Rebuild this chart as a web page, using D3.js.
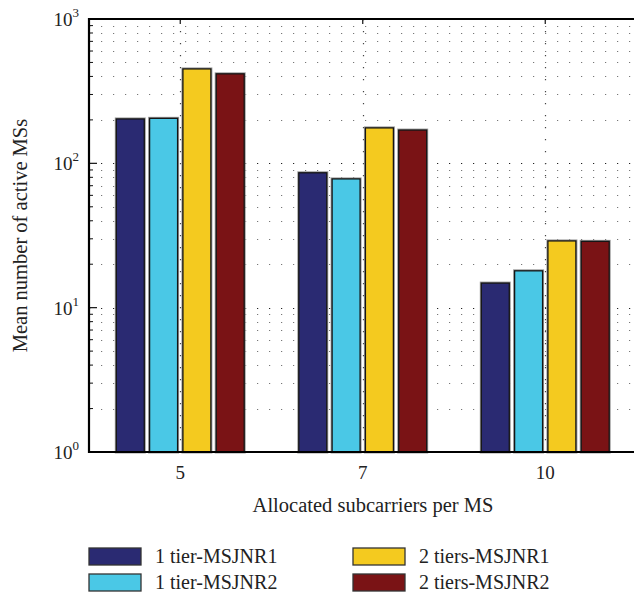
<!DOCTYPE html>
<html lang="en">
<head>
<meta charset="utf-8">
<script src="https://d3js.org/d3.v7.min.js"></script>
<style>
  body { margin: 0; background: #fff; }
  text { font-family: "Liberation Serif", "DejaVu Serif", serif; fill: #222; }
</style>
</head>
<body>
<div id="chart"></div>
<script>
// chart data
const categories = ["5", "7", "10"];
const seriesNames = ["1 tier-MSJNR1", "1 tier-MSJNR2", "2 tiers-MSJNR1", "2 tiers-MSJNR2"];
const seriesColors = ["#2a2a72", "#4ac8e6", "#f4ca1f", "#7a1315"];
const tierOneJnr1 = [203, 86, 14.8];
const tierOneJnr2 = [205, 78, 18];
const tierTwoJnr1 = [451, 176, 29];
const tierTwoJnr2 = [417, 170, 28.8];
const seriesValues = [tierOneJnr1, tierOneJnr2, tierTwoJnr1, tierTwoJnr2];
const yTickValues = [1, 10, 100, 1000];

const svgWidth = 634, svgHeight = 597;
const margin = {top: 19, left: 89, bottom: 145};
const plotRight = 636.5;
const plotBottom = svgHeight - margin.bottom; // 452

const svg = d3.select("#chart").append("svg")
  .attr("width", svgWidth)
  .attr("height", svgHeight);

// scales
const x0 = d3.scaleBand().domain(categories).range([margin.left, plotRight]);
const groupSpan = x0.bandwidth() * 0.73;
const x1 = d3.scaleBand().domain(d3.range(seriesNames.length))
  .range([(x0.bandwidth() - groupSpan) / 2, (x0.bandwidth() + groupSpan) / 2])
  .paddingInner(0.16).paddingOuter(0.08);
const y = d3.scaleLog().domain([1, 1000]).range([plotBottom, margin.top]);

// minor + major grid (dotted), behind the bars
const gridValues = [];
for (let k = 0; k < 3; k++) {
  for (let m = 1; m < 10; m++) gridValues.push(m * Math.pow(10, k));
}
svg.append("g").selectAll("line")
  .data(gridValues.filter(v => v > 1))
  .enter().append("line")
  .attr("x1", margin.left + 1).attr("x2", plotRight)
  .attr("y1", d => Math.round(y(d)) + 0.5).attr("y2", d => Math.round(y(d)) + 0.5)
  .attr("stroke", d => yTickValues.includes(d) ? "#222" : "#777")
  .attr("stroke-width", 1.2)
  .attr("stroke-dasharray", "1.2,10.8")
  .attr("stroke-dashoffset", -11);

svg.append("g").selectAll("line")
  .data(categories)
  .enter().append("line")
  .attr("x1", d => Math.round(x0(d) + x0.bandwidth() / 2) + 0.5)
  .attr("x2", d => Math.round(x0(d) + x0.bandwidth() / 2) + 0.5)
  .attr("y1", margin.top).attr("y2", plotBottom)
  .attr("stroke", "#444")
  .attr("stroke-width", 1.2)
  .attr("stroke-dasharray", "1.2,10.8");

// bars
const groups = svg.append("g").selectAll("g")
  .data(categories)
  .enter().append("g")
  .attr("transform", d => "translate(" + x0(d) + ",0)");

groups.selectAll("rect.halo")
  .data((d, i) => seriesValues.map((s, j) => ({series: j, value: s[i]})))
  .enter().append("rect")
  .attr("class", "halo")
  .attr("x", d => x1(d.series))
  .attr("y", d => y(d.value))
  .attr("width", x1.bandwidth())
  .attr("height", d => y(1) - y(d.value))
  .attr("fill", "none")
  .attr("stroke", "#9a9a9a")
  .attr("stroke-width", 3);

groups.selectAll("rect.bar")
  .data((d, i) => seriesValues.map((s, j) => ({series: j, value: s[i]})))
  .enter().append("rect")
  .attr("class", "bar")
  .attr("x", d => x1(d.series))
  .attr("y", d => y(d.value))
  .attr("width", x1.bandwidth())
  .attr("height", d => y(1) - y(d.value))
  .attr("fill", d => seriesColors[d.series])
  .attr("stroke", "#151515")
  .attr("stroke-width", 1.3);

// y axis ticks (inside), major and minor
const minorValues = gridValues.filter(v => !yTickValues.includes(v));
svg.append("g").selectAll("line")
  .data(minorValues)
  .enter().append("line")
  .attr("x1", margin.left).attr("x2", margin.left + 4)
  .attr("y1", d => y(d)).attr("y2", d => y(d))
  .attr("stroke", "#111").attr("stroke-width", 1);
svg.append("g").selectAll("line")
  .data(yTickValues)
  .enter().append("line")
  .attr("x1", margin.left).attr("x2", margin.left + 8)
  .attr("y1", d => y(d)).attr("y2", d => y(d))
  .attr("stroke", "#111").attr("stroke-width", 1.2);

// top axis ticks
svg.append("g").selectAll("line")
  .data(categories)
  .enter().append("line")
  .attr("x1", d => x0(d) + x0.bandwidth() / 2).attr("x2", d => x0(d) + x0.bandwidth() / 2)
  .attr("y1", margin.top).attr("y2", margin.top + 5)
  .attr("stroke", "#111").attr("stroke-width", 1.2);

// axis frame
svg.append("path")
  .attr("d", "M" + plotRight + "," + margin.top + "H" + margin.left + "V" + plotBottom + "H" + plotRight)
  .attr("fill", "none")
  .attr("stroke", "#000")
  .attr("stroke-width", 2.2);

// y tick labels: 10^k
const yLabels = svg.append("g").selectAll("text")
  .data(yTickValues)
  .enter().append("text")
  .attr("x", margin.left - 10)
  .attr("y", d => y(d) + 7)
  .attr("text-anchor", "end")
  .attr("font-size", "19px");
yLabels.append("tspan").text("10");
yLabels.append("tspan")
  .attr("dy", -9)
  .attr("font-size", "13px")
  .text(d => Math.round(Math.log10(d)));

// x tick labels
svg.append("g").selectAll("text")
  .data(categories)
  .enter().append("text")
  .attr("x", d => x0(d) + x0.bandwidth() / 2)
  .attr("y", plotBottom + 27)
  .attr("text-anchor", "middle")
  .attr("font-size", "19px")
  .text(d => d);

// axis titles
svg.append("text")
  .attr("x", 373)
  .attr("y", plotBottom + 60)
  .attr("text-anchor", "middle")
  .attr("font-size", "20.5px")
  .text("Allocated subcarriers per MS");

svg.append("text")
  .attr("transform", "translate(27," + (margin.top + plotBottom) / 2 + ") rotate(-90)")
  .attr("text-anchor", "middle")
  .attr("font-size", "20.5px")
  .text("Mean number of active MSs");

// legend, two columns
const legend = svg.append("g").selectAll("g")
  .data(seriesNames)
  .enter().append("g")
  .attr("transform", (d, i) => "translate(" + (89 + Math.floor(i / 2) * 264) + "," + (548 + (i % 2) * 26) + ")");
legend.append("rect")
  .attr("width", 52).attr("height", 17)
  .attr("fill", (d, i) => seriesColors[i])
  .attr("stroke", "#333").attr("stroke-width", 1.3);
legend.append("text")
  .attr("x", 66).attr("y", 15)
  .attr("font-size", "20px")
  .text(d => d);
</script>
</body>
</html>
